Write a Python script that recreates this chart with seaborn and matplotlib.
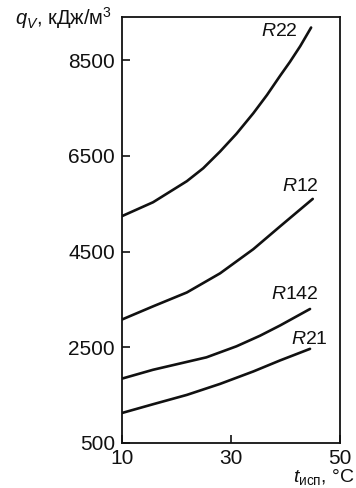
import matplotlib
matplotlib.use("Agg")
import matplotlib.pyplot as plt
import seaborn as sns
import pandas as pd

# Data
t_r22 = [10, 15.7, 21.9, 24.9, 28.0, 31.0, 34.1, 36.6, 39.0, 40.8, 42.7, 44.7]
q_r22 = [5240, 5530, 5970, 6240, 6590, 6960, 7390, 7770, 8170, 8460, 8790, 9180]
t_r12 = [10, 15.7, 21.9, 28.0, 34.1, 39.0, 45.0]
q_r12 = [3080, 3355, 3645, 4045, 4550, 5025, 5600]
t_r142 = [10, 15.7, 25.5, 31.0, 35.3, 39.0, 44.5]
q_r142 = [1845, 2030, 2290, 2520, 2740, 2955, 3300]
t_r21 = [10, 15.7, 21.9, 28.0, 34.1, 39.0, 44.5]
q_r21 = [1127, 1310, 1505, 1735, 1995, 2225, 2467]

labels = ["R22", "R12", "R142", "R21"]
label_pos_x = [42.3, 46.1, 46.1, 47.8]
label_pos_y = [9090, 5850, 3610, 2660]

xticks = [10, 30, 50]
yticks = [500, 2500, 4500, 6500, 8500]

frames = []
for name, t, q in zip(labels, [t_r22, t_r12, t_r142, t_r21],
                      [q_r22, q_r12, q_r142, q_r21]):
    frames.append(pd.DataFrame({"t": t, "q": q, "fluid": name}))
df = pd.concat(frames, ignore_index=True)

sns.set_style("ticks")
plt.rcParams['font.family'] = ['Liberation Sans', 'DejaVu Sans']
plt.rcParams['mathtext.fontset'] = 'custom'
plt.rcParams['mathtext.rm'] = 'Liberation Sans'
plt.rcParams['mathtext.it'] = 'Liberation Sans:italic'
plt.rcParams['mathtext.bf'] = 'Liberation Sans:bold'

fig = plt.figure(figsize=(3.56, 4.88), dpi=100)
ax = fig.add_axes([122/356, 45/488, 218/356, 426/488])

sns.lineplot(data=df, x="t", y="q", units="fluid", estimator=None,
             color="#111111", linewidth=1.9, ax=ax, sort=True)

ax.set_xlim(10, 50)
ax.set_ylim(500, 9400)
ax.set_xticks(xticks)
ax.set_yticks(yticks)
ax.set_xticklabels([str(v) for v in xticks])
ax.set_yticklabels([str(v) for v in yticks])
ax.tick_params(direction="in", length=6, width=1.2, labelsize=15,
               pad=5, colors="#111111")
ax.tick_params(axis="x", pad=4)
ax.set_xlabel("")
ax.set_ylabel("")
for s in ax.spines.values():
    s.set_linewidth(1.3)
    s.set_color("#111111")

for name, lx, ly in zip(labels, label_pos_x, label_pos_y):
    ax.text(lx, ly, r"$\mathit{R}$" + name[1:], ha="right", va="center",
            fontsize=14, color="#111111")

fig.text(15/356, (488-25)/488, r"$q_V$, кДж/м$^3$", ha="left", va="baseline",
         fontsize=14.5, color="#111111")
fig.text(355/356, (488-482)/488, r"$t_{\mathrm{исп}}$, °C", ha="right",
         va="baseline", fontsize=14, color="#111111")

fig.savefig("out.png", dpi=100)
